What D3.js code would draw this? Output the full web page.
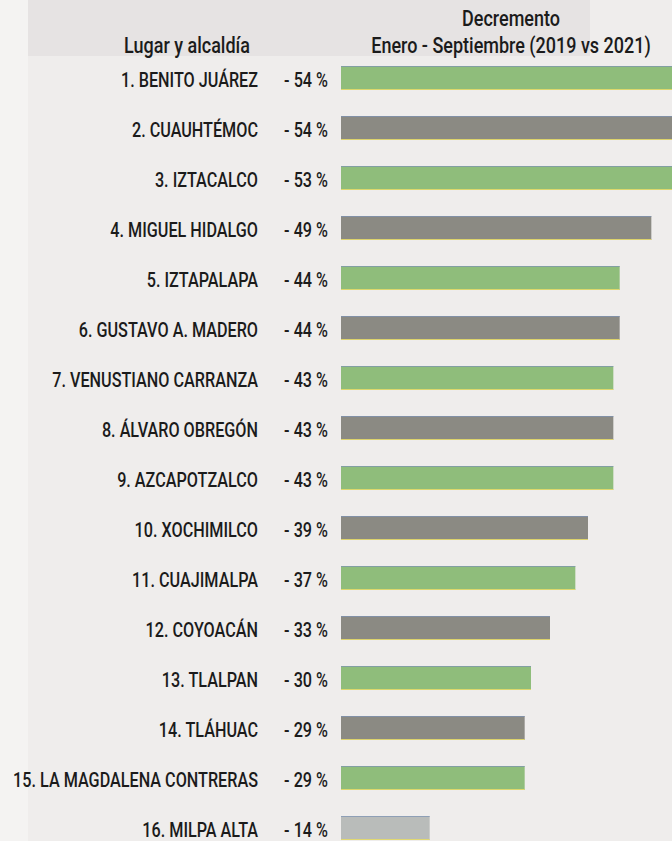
<!DOCTYPE html>
<html>
<head>
<meta charset="utf-8">
<script src="https://cdn.jsdelivr.net/npm/d3@7"></script>
<style>
  html, body { margin: 0; padding: 0; background: #efedec; }
  svg { display: block; }
  text { font-family: Roboto, "Noto Sans", sans-serif; fill: #1b1b1b; font-weight: 500; }
</style>
</head>
<body>
<div id="chart"></div>
<script>
// ---- data ----
const names = [
  "1. BENITO JUÁREZ", "2. CUAUHTÉMOC", "3. IZTACALCO", "4. MIGUEL HIDALGO",
  "5. IZTAPALAPA", "6. GUSTAVO A. MADERO", "7. VENUSTIANO CARRANZA", "8. ÁLVARO OBREGÓN",
  "9. AZCAPOTZALCO", "10. XOCHIMILCO", "11. CUAJIMALPA", "12. COYOACÁN",
  "13. TLALPAN", "14. TLÁHUAC", "15. LA MAGDALENA CONTRERAS", "16. MILPA ALTA"
];
const values = [54, 54, 53, 49, 44, 44, 43, 43, 43, 39, 37, 33, 30, 29, 29, 14];
const barTone = ["green", "gray", "green", "gray", "green", "gray", "green", "gray",
                 "green", "gray", "green", "gray", "green", "gray", "green", "light"];
const headerLeft = "Lugar y alcaldía";
const headerRight = ["Decremento", "Enero - Septiembre (2019 vs 2021)"];

// ---- layout ----
const W = 672, H = 841;
const SX = 0.79;          // condensed type
const FS = 20.5;
const fills = { green: "#8fbd7b", gray: "#8b8a83", light: "#b9bcba" };

const svg = d3.select("#chart").append("svg")
  .attr("width", W).attr("height", H);

svg.append("rect").attr("width", W).attr("height", H).attr("fill", "#efedec");
// faint newspaper bleed-through band at top
svg.append("rect").attr("x", 20).attr("y", 0).attr("width", 570).attr("height", 56)
  .attr("fill", "#e6e3e3");
svg.append("rect").attr("x", 0).attr("y", 0).attr("width", 28).attr("height", H)
  .attr("fill", "#f4f3f2");

const y = d3.scaleBand().domain(names).range([53, 53 + 50 * names.length]).paddingInner(0.52).paddingOuter(0.26);
const x = d3.scaleLinear().domain([0, 54]).range([341, 341 + 342]);

function ctext(g, str, tx, ty, anchor, size, sx) {
  g.append("text")
    .attr("transform", `translate(${tx},${ty}) scale(${sx || SX},1)`)
    .attr("text-anchor", anchor)
    .attr("font-size", size)
    .text(str);
}

// headers
const hdr = svg.append("g");
ctext(hdr, headerLeft, 250, 53, "end", 22.5, 0.8);
ctext(hdr, headerRight[0], 511, 26, "middle", 22.5, 0.8);
ctext(hdr, headerRight[1], 511, 53, "middle", 22.5, 0.8);

// bars
const rows = svg.append("g").selectAll("g").data(names).join("g");
rows.each(function (d, i) {
  const g = d3.select(this);
  const y0 = y(d), bh = y.bandwidth();
  const cy = y0 + bh / 2;
  g.append("rect")
    .attr("x", x(0)).attr("y", y0)
    .attr("width", x(values[i]) - x(0)).attr("height", bh)
    .attr("fill", fills[barTone[i]]);
  g.append("line")
    .attr("x1", x(0)).attr("x2", x(values[i]))
    .attr("y1", y0 + 0.5).attr("y2", y0 + 0.5)
    .attr("stroke", "#7d93b5").attr("stroke-width", 1).attr("opacity", 0.7);
  g.append("line")
    .attr("x1", x(0)).attr("x2", x(values[i]))
    .attr("y1", y0 + bh - 0.5).attr("y2", y0 + bh - 0.5)
    .attr("stroke", "#e6dc6a").attr("stroke-width", 1.2).attr("opacity", 0.9);
  ctext(g, d, 258, cy + 9, "end", FS);
  ctext(g, "- " + values[i] + " %", 328, cy + 9, "end", FS);
});
</script>
</body>
</html>
